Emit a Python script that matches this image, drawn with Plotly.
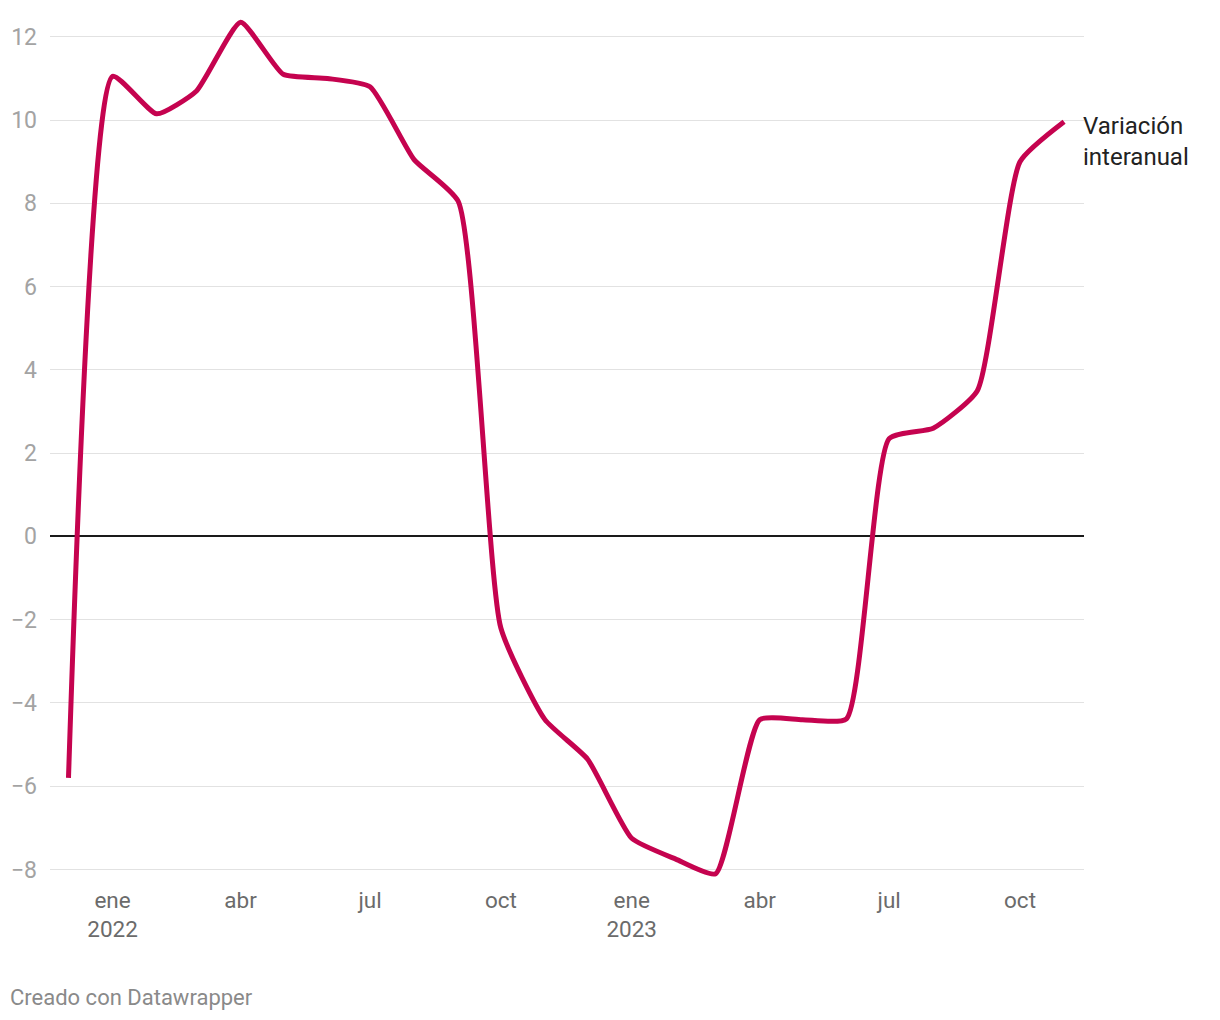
import plotly.graph_objects as go

dates = ["2021-12-01", "2022-01-01", "2022-02-01", "2022-03-01", "2022-04-01", "2022-05-01",
         "2022-06-01", "2022-07-01", "2022-08-01", "2022-09-01", "2022-10-01", "2022-11-01",
         "2022-12-01", "2023-01-01", "2023-02-01", "2023-03-01", "2023-04-01", "2023-05-01",
         "2023-06-01", "2023-07-01", "2023-08-01", "2023-09-01", "2023-10-01", "2023-11-01"]
values = [-5.8, 11.05, 10.15, 10.7, 12.35, 11.1,
          11.0, 10.8, 9.05, 8.05, -2.2, -4.4,
          -5.35, -7.25, -7.75, -8.1, -4.4, -4.4,
          -4.38, 2.35, 2.6, 3.5, 9.0, 9.96]

x_tickvals = ["2022-01-01", "2022-04-01", "2022-07-01", "2022-10-01",
              "2023-01-01", "2023-04-01", "2023-07-01", "2023-10-01"]
x_ticktext = ["ene<br>2022", "abr", "jul", "oct", "ene<br>2023", "abr", "jul", "oct"]
y_tickvals = [-8, -6, -4, -2, 0, 2, 4, 6, 8, 10, 12]
series_name = "Variación<br>interanual"

LINE = "#c5034f"
FONT = "Roboto"

fig = go.Figure()
fig.add_trace(go.Scatter(
    x=dates, y=values, mode="lines",
    line=dict(color=LINE, width=5, shape="spline", smoothing=0.5),
    hoverinfo="x+y", showlegend=False,
))

fig.add_annotation(
    x=1.0, xref="paper", y=values[-1], yref="y",
    text=series_name, showarrow=False, xanchor="left", yanchor="middle",
    align="left", xshift=-3, yshift=-20,
    font=dict(family=FONT, size=24, color="#222222"),
)
fig.add_annotation(
    x=0, xref="paper", y=0, yref="paper",
    text="Creado con Datawrapper", showarrow=False,
    xanchor="left", yanchor="middle", xshift=-42, yshift=-115,
    font=dict(family=FONT, size=22, color="#8a8a8a"),
)

fig.update_layout(
    width=1212, height=1012,
    margin=dict(l=42, r=136, t=8, b=138),
    paper_bgcolor="white", plot_bgcolor="white",
    font=dict(family=FONT),
    xaxis=dict(
        range=["2021-11-18", "2023-11-15"],
        tickvals=x_tickvals, ticktext=x_ticktext,
        showgrid=False, zeroline=False, showline=False, ticks="",
        tickfont=dict(family=FONT, size=22.5, color="#6b6b6b"),
        ticklabelstandoff=2, automargin=False,
    ),
    yaxis=dict(
        range=[-8.3, 12.5],
        tickvals=y_tickvals,
        showgrid=True, gridcolor="#e2e2e2", gridwidth=1.3,
        zeroline=True, zerolinecolor="#1a1a1a", zerolinewidth=1.5,
        showline=False, ticks="",
        tickfont=dict(family=FONT, size=23, color="#a3a3a3"),
        ticklabelstandoff=12, automargin=False,
    ),
)

fig.write_html("out.html")
